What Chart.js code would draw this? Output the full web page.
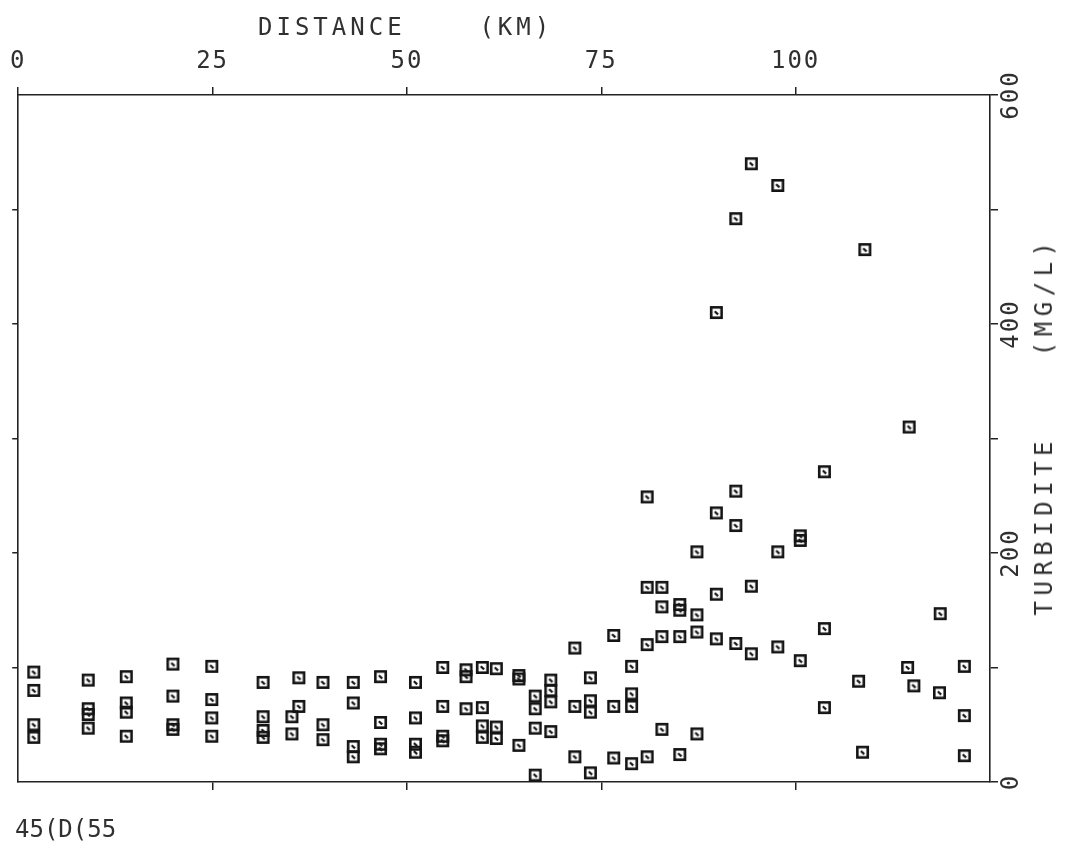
<!DOCTYPE html>
<html>
<head>
<meta charset="utf-8">
<script src="https://cdn.jsdelivr.net/npm/chart.js@4.4.1/dist/chart.umd.min.js"></script>
<style>
html,body{margin:0;padding:0;background:#fff;}
#wrap{position:relative;width:1078px;height:849px;overflow:hidden;}
#c{position:absolute;left:0;top:0;}
.lbl{position:absolute;font-family:"DejaVu Sans Mono",monospace;font-size:24px;color:#303030;white-space:pre;line-height:1;letter-spacing:4px;}
#ytitle{left:1044px;top:426px;letter-spacing:5.5px;transform:translate(-50%,-50%) rotate(-90deg);}
</style>
</head>
<body>
<div id="wrap">
<canvas id="c" width="1078" height="849"></canvas>
<div class="lbl" style="left:258px;top:15px;">DISTANCE    (KM)</div>
<div class="lbl" id="ytitle">TURBIDITE    (MG/L)</div>
<div class="lbl" style="left:15px;top:817px;letter-spacing:0px;">45(D(55</div>
</div>
<script>
// ---- data (distance km, turbidity mg/L) ----
const distanceKm = [
  2.0,2.0,2.0,2.0,
  9.0,9.0,9.0,9.0,
  13.9,13.9,13.9,13.9,
  19.9,19.9,19.9,19.9,
  24.9,24.9,24.9,24.9,
  31.5,31.5,31.5,31.5,
  35.2,35.2,36.1,36.1,
  39.2,39.2,39.2,
  43.1,43.1,43.1,43.1,
  46.6,46.6,46.6,46.6,
  51.1,51.1,51.1,51.1,
  54.6,54.6,54.6,54.6,
  57.6,57.6,57.6,
  59.7,59.7,59.7,59.7,
  61.5,61.5,61.5,
  64.4,64.4,64.4,
  66.5,66.5,66.5,66.5,
  68.5,68.5,68.5,68.5,
  71.6,71.6,71.6,
  73.6,73.6,73.6,73.6,
  76.6,76.6,76.6,
  78.9,78.9,78.9,78.9,
  80.9,80.9,80.9,80.9,
  82.8,82.8,82.8,82.8,
  85.1,85.1,85.1,85.1,
  87.3,87.3,87.3,87.3,
  89.8,89.8,89.8,89.8,
  92.3,92.3,92.3,92.3,
  94.3,94.3,94.3,
  97.7,97.7,97.7,
  100.6,100.6,100.6,
  103.7,103.7,103.7,
  108.9,108.1,108.6,
  114.6,114.4,115.2,
  118.6,118.5,
  121.7,121.7,121.7
];
const turbidityMgL = [
  96,80,50,39,
  89,64,59,47,
  92,69,61,40,
  103,75,50,46,
  101,72,56,40,
  87,57,45,39,
  57,42,91,66,
  87,50,37,
  87,69,31,22,
  92,52,33,29,
  87,56,33,26,
  100,66,40,36,
  98,92,64,
  100,65,49,39,
  99,48,38,
  93,90,32,
  75,64,47,6,
  89,80,70,44,
  117,66,22,
  91,71,61,8,
  128,66,21,
  101,77,66,16,
  249,170,120,22,
  170,153,127,46,
  155,150,127,24,
  201,146,131,42,
  410,235,164,125,
  492,254,224,121,
  540,171,112,
  521,201,118,
  215,211,106,
  271,134,65,
  465,88,26,
  310,100,84,
  147,78,
  101,58,23
];
const xTickValues = [0,25,50,75,100];
const yTickLabels = [0,200,400,600];

// ---- marker glyph: square with small notch ----
function makeMarker(){
  const s = 15, cv = document.createElement('canvas');
  cv.width = s; cv.height = s;
  const g = cv.getContext('2d');
  g.strokeStyle = '#141414'; g.lineWidth = 2.6;
  g.strokeRect(2.3,2.3,s-4.6,s-4.6);
  g.lineWidth = 2.2;
  g.beginPath(); g.moveTo(5.8,6.2); g.lineTo(9.2,9.4); g.stroke();
  return cv;
}

const pts = distanceKm.map((x,i)=>({x:x, y:turbidityMgL[i]}));
const axisColor = '#222';
const font = {family:'"DejaVu Sans Mono", monospace', size:24};

const spacingPlugin = {
  id:'spacing',
  beforeDraw(chart){ try{ chart.ctx.letterSpacing = '2px'; }catch(e){} }
};

new Chart(document.getElementById('c'), {
  type:'scatter',
  data:{datasets:[{data:pts, pointStyle:makeMarker(), pointRadius:7.5, pointHoverRadius:7.5}]},
  plugins:[spacingPlugin],
  options:{
    responsive:false, animation:false, events:[],
    layout:{padding:0},
    plugins:{legend:{display:false}, tooltip:{enabled:false}},
    scales:{
      x:{
        type:'linear', position:'top', min:0, max:125,
        afterBuildTicks:(s)=>{ s.ticks = xTickValues.map(v=>({value:v})); },
        afterFit:(s)=>{ s.height = 95; },
        ticks:{autoSkip:false, maxRotation:0, minRotation:0, padding:11, color:'#303030', font:font,
          callback:(v)=>String(v)},
        grid:{drawOnChartArea:false, drawTicks:true, tickLength:8, color:axisColor, lineWidth:1.5},
        border:{display:true, color:axisColor, width:1.6}
      },
      x2:{
        type:'linear', position:'bottom', min:0, max:125,
        afterBuildTicks:(s)=>{ s.ticks = [25,50,75,100].map(v=>({value:v})); },
        afterFit:(s)=>{ s.height = 67; },
        ticks:{display:false},
        grid:{drawOnChartArea:false, drawTicks:true, tickLength:8, color:axisColor, lineWidth:1.5},
        border:{display:true, color:axisColor, width:1.6}
      },
      y:{
        type:'linear', position:'right', min:0, max:600,
        afterBuildTicks:(s)=>{ s.ticks = [0,100,200,300,400,500,600].map(v=>({value:v})); },
        afterFit:(s)=>{ s.width = 88; },
        ticks:{autoSkip:false, minRotation:90, maxRotation:90, crossAlign:'center', padding:-8,
          color:'#303030', font:font,
          callback:(v)=> yTickLabels.includes(v) ? String(v) : ''},
        grid:{drawOnChartArea:false, drawTicks:true, tickLength:8, color:axisColor, lineWidth:1.5},
        border:{display:true, color:axisColor, width:1.6}
      },
      y2:{
        type:'linear', position:'left', min:0, max:600,
        afterBuildTicks:(s)=>{ s.ticks = [100,200,300,400,500].map(v=>({value:v})); },
        afterFit:(s)=>{ s.width = 15; },
        ticks:{display:false},
        grid:{drawOnChartArea:false, drawTicks:true, tickLength:6, color:axisColor, lineWidth:1.5},
        border:{display:true, color:axisColor, width:1.6}
      }
    }
  }
});
</script>
</body>
</html>
